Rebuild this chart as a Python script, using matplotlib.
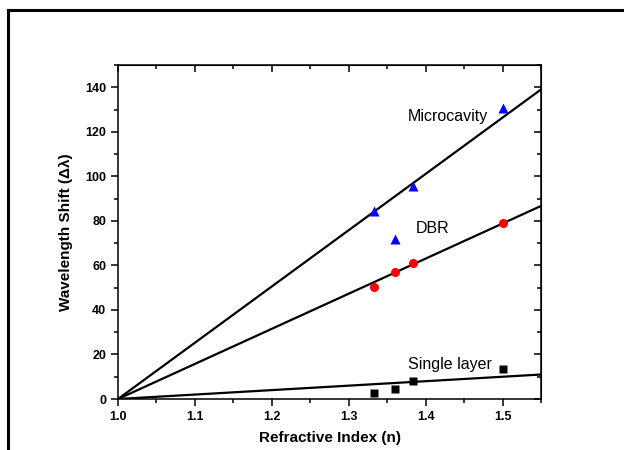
import matplotlib
matplotlib.use("Agg")
import matplotlib.pyplot as plt
from matplotlib.lines import Line2D
from matplotlib.ticker import MultipleLocator

plt.rcParams["font.family"] = ["Liberation Sans", "DejaVu Sans"]

# measured data
ri = [1.333, 1.36, 1.384, 1.5]
micro = [84.5, 72.0, 95.5, 130.5]
dbr = [50.3, 57.0, 61.0, 79.0]
single = [2.7, 4.3, 8.0, 13.5]

# linear fit lines (endpoints)
fit_x = [1.0, 1.55]
fit_micro = [0.0, 139.0]
fit_dbr = [0.0, 86.7]
fit_single = [0.0, 11.0]

fig = plt.figure(figsize=(6.24, 4.5), dpi=100)
ax = fig.add_axes([0.1891, 0.1133, 0.867 - 0.1891, 0.8556 - 0.1133])

# outer frame fragments
fig.add_artist(Line2D([8/624, 1.0], [1 - 10/450, 1 - 10/450], color="black", lw=2.2, transform=fig.transFigure))
fig.add_artist(Line2D([8/624, 8/624], [1 - 10/450, 0.0], color="black", lw=2.2, transform=fig.transFigure))

for ys in (fit_micro, fit_dbr, fit_single):
    ax.plot(fit_x, ys, color="black", lw=1.6, zorder=2)

ax.plot(ri, micro, "^", color="#0000ff", ms=7.5, mec="none", zorder=3)
ax.plot(ri, dbr, "o", color="#ff0000", ms=6.5, mec="none", zorder=3)
ax.plot(ri, single, "s", color="black", ms=5.5, mec="none", zorder=3)

ax.text(1.377, 127, "Microcavity", fontsize=11.5, ha="left", va="center")
ax.text(1.387, 76.5, "DBR", fontsize=11.5, ha="left", va="center")
ax.text(1.377, 15.7, "Single layer", fontsize=11.5, ha="left", va="center")

ax.set_xlim(1.0, 1.55)
ax.set_ylim(0, 150)
ax.xaxis.set_major_locator(MultipleLocator(0.1))
ax.xaxis.set_minor_locator(MultipleLocator(0.05))
ax.yaxis.set_major_locator(MultipleLocator(20))
ax.yaxis.set_minor_locator(MultipleLocator(10))
ax.set_xticks([1.0, 1.1, 1.2, 1.3, 1.4, 1.5])
ax.set_xticklabels(["1.0", "1.1", "1.2", "1.3", "1.4", "1.5"])
ax.set_yticks([0, 20, 40, 60, 80, 100, 120, 140])

ax.tick_params(which="both", direction="out", width=1.1, labelsize=9)
ax.tick_params(which="major", length=5)
ax.tick_params(which="minor", length=3)
for lab in ax.get_xticklabels() + ax.get_yticklabels():
    lab.set_fontweight("bold")
for s in ax.spines.values():
    s.set_linewidth(1.1)

# inward ticks on top and right
axt = ax.secondary_xaxis("top")
axt.xaxis.set_major_locator(MultipleLocator(0.1))
axt.xaxis.set_minor_locator(MultipleLocator(0.05))
axt.tick_params(which="both", direction="in", labeltop=False, width=1.1)
axt.tick_params(which="major", length=5)
axt.tick_params(which="minor", length=3)
axr = ax.secondary_yaxis("right")
axr.yaxis.set_major_locator(MultipleLocator(20))
axr.yaxis.set_minor_locator(MultipleLocator(10))
axr.tick_params(which="both", direction="in", labelright=False, width=1.1)
axr.tick_params(which="major", length=5)
axr.tick_params(which="minor", length=3)

ax.set_xlabel("Refractive Index (n)", fontsize=11, fontweight="bold", labelpad=6)
ax.set_ylabel("Wavelength Shift (\u0394\u03bb)", fontsize=11, fontweight="bold", labelpad=9)

fig.savefig("out.png", dpi=100)
